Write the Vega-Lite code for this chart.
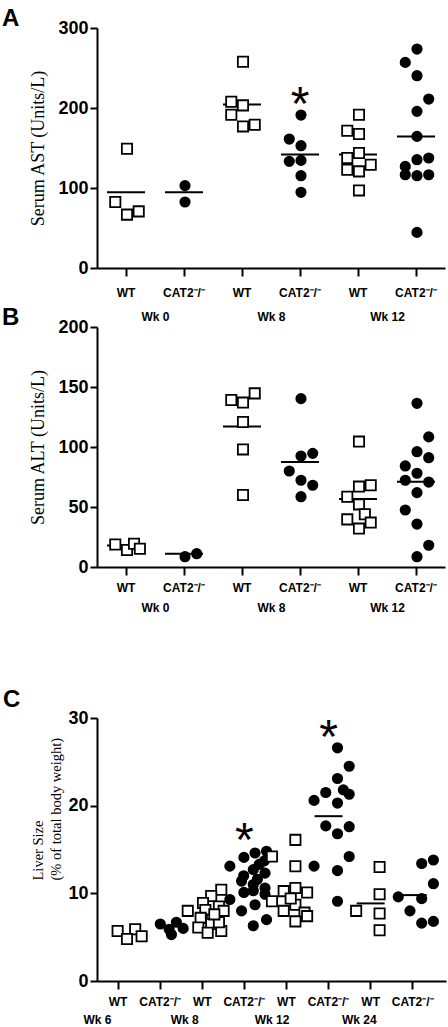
{
 "$schema": "https://vega.github.io/schema/vega-lite/v6.json",
 "padding": {"left": 2, "top": 7, "right": 3, "bottom": 0},
 "bounds": "flush",
 "spacing": 59,
 "datasets": {
  "ptsA": [
   {"g":"0W","geno":"WT","v":149,"s":0},{"g":"0W","geno":"WT","v":82.5,"s":-1},{"g":"0W","geno":"WT","v":66.7,"s":0},{"g":"0W","geno":"WT","v":70.8,"s":1},
   {"g":"0C","geno":"CAT2","v":103,"s":0},{"g":"0C","geno":"CAT2","v":82.5,"s":0},
   {"g":"8W","geno":"WT","v":257.9,"s":0},{"g":"8W","geno":"WT","v":207.9,"s":-1},{"g":"8W","geno":"WT","v":191.6,"s":-1},{"g":"8W","geno":"WT","v":203.3,"s":0},{"g":"8W","geno":"WT","v":177,"s":0},{"g":"8W","geno":"WT","v":179,"s":1},
   {"g":"8C","geno":"CAT2","v":191.2,"s":0},{"g":"8C","geno":"CAT2","v":161.2,"s":-1},{"g":"8C","geno":"CAT2","v":152.9,"s":0},{"g":"8C","geno":"CAT2","v":133.3,"s":-1},{"g":"8C","geno":"CAT2","v":134.5,"s":0},{"g":"8C","geno":"CAT2","v":115.4,"s":0},{"g":"8C","geno":"CAT2","v":94.6,"s":0},
   {"g":"12W","geno":"WT","v":191.6,"s":0},{"g":"12W","geno":"WT","v":171.6,"s":-1},{"g":"12W","geno":"WT","v":167.5,"s":0},{"g":"12W","geno":"WT","v":143.7,"s":0},{"g":"12W","geno":"WT","v":137.5,"s":-1},{"g":"12W","geno":"WT","v":122.9,"s":-1},{"g":"12W","geno":"WT","v":120.8,"s":0},{"g":"12W","geno":"WT","v":129.1,"s":1},{"g":"12W","geno":"WT","v":97,"s":0},
   {"g":"12C","geno":"CAT2","v":273.7,"s":0},{"g":"12C","geno":"CAT2","v":257,"s":-1},{"g":"12C","geno":"CAT2","v":240.4,"s":0},{"g":"12C","geno":"CAT2","v":211.2,"s":1},{"g":"12C","geno":"CAT2","v":195.8,"s":0},{"g":"12C","geno":"CAT2","v":164.5,"s":0},{"g":"12C","geno":"CAT2","v":127,"s":-1},{"g":"12C","geno":"CAT2","v":135.4,"s":0},{"g":"12C","geno":"CAT2","v":137.5,"s":1},{"g":"12C","geno":"CAT2","v":116.6,"s":-1},{"g":"12C","geno":"CAT2","v":115.4,"s":0},{"g":"12C","geno":"CAT2","v":116.6,"s":1},{"g":"12C","geno":"CAT2","v":44.5,"s":0}
  ],
  "meanA": [
   {"g":"0W","v":94.6},{"g":"0C","v":94.6},{"g":"8W","v":204.5},{"g":"8C","v":142},{"g":"12W","v":142},{"g":"12C","v":164.5}
  ],
  "starA": [{"g":"8C","v":217}],
  "wkA": [{"w":"Wk 0"},{"w":"Wk 8"},{"w":"Wk 12"}],
  "ptsB": [
   {"g":"0W","geno":"WT","v":18.8,"s":-1},{"g":"0W","geno":"WT","v":14.1,"s":0},{"g":"0W","geno":"WT","v":19.4,"s":0.6},{"g":"0W","geno":"WT","v":15.2,"s":1.1},
   {"g":"0C","geno":"CAT2","v":8.6,"s":0},{"g":"0C","geno":"CAT2","v":11.1,"s":1},
   {"g":"8W","geno":"WT","v":139.2,"s":-1},{"g":"8W","geno":"WT","v":137,"s":0},{"g":"8W","geno":"WT","v":144.7,"s":1},{"g":"8W","geno":"WT","v":120.8,"s":0},{"g":"8W","geno":"WT","v":98,"s":0},{"g":"8W","geno":"WT","v":60,"s":0},
   {"g":"8C","geno":"CAT2","v":140.3,"s":0},{"g":"8C","geno":"CAT2","v":92.5,"s":0},{"g":"8C","geno":"CAT2","v":94.7,"s":1},{"g":"8C","geno":"CAT2","v":80,"s":-1},{"g":"8C","geno":"CAT2","v":72.3,"s":0},{"g":"8C","geno":"CAT2","v":68.1,"s":1},{"g":"8C","geno":"CAT2","v":58.6,"s":0},
   {"g":"12W","geno":"WT","v":104.5,"s":0},{"g":"12W","geno":"WT","v":58.6,"s":-1},{"g":"12W","geno":"WT","v":67,"s":0},{"g":"12W","geno":"WT","v":68.1,"s":1},{"g":"12W","geno":"WT","v":52.2,"s":0},{"g":"12W","geno":"WT","v":39.7,"s":-1},{"g":"12W","geno":"WT","v":43.9,"s":0.5},{"g":"12W","geno":"WT","v":37,"s":1},{"g":"12W","geno":"WT","v":32,"s":0},
   {"g":"12C","geno":"CAT2","v":136.4,"s":0},{"g":"12C","geno":"CAT2","v":108.4,"s":1},{"g":"12C","geno":"CAT2","v":96.1,"s":0},{"g":"12C","geno":"CAT2","v":91.1,"s":1},{"g":"12C","geno":"CAT2","v":84.2,"s":-1},{"g":"12C","geno":"CAT2","v":78.1,"s":0},{"g":"12C","geno":"CAT2","v":72.3,"s":-1},{"g":"12C","geno":"CAT2","v":70.8,"s":1},{"g":"12C","geno":"CAT2","v":62,"s":0},{"g":"12C","geno":"CAT2","v":47.5,"s":-1},{"g":"12C","geno":"CAT2","v":35.8,"s":0},{"g":"12C","geno":"CAT2","v":18.1,"s":1},{"g":"12C","geno":"CAT2","v":8.6,"s":0}
  ],
  "meanB": [
   {"g":"0W","v":18},{"g":"0C","v":11},{"g":"8W","v":117},{"g":"8C","v":87.5},{"g":"12W","v":56.7},{"g":"12C","v":71}
  ],
  "ptsC": [
   {"g":"6W","geno":"WT","v":5.7,"s":-0.8},{"g":"6W","geno":"WT","v":5.9,"s":0.7},{"g":"6W","geno":"WT","v":4.8,"s":0},{"g":"6W","geno":"WT","v":5.1,"s":1.25},
   {"g":"6C","geno":"CAT2","v":6.5,"s":-0.75},{"g":"6C","geno":"CAT2","v":6.7,"s":0.62},{"g":"6C","geno":"CAT2","v":5.9,"s":0},{"g":"6C","geno":"CAT2","v":6.0,"s":1.2},{"g":"6C","geno":"CAT2","v":5.3,"s":0.2},
   {"g":"8W","geno":"WT","v":10.4,"s":0.86},{"g":"8W","geno":"WT","v":9.7,"s":0},{"g":"8W","geno":"WT","v":8.9,"s":-0.7},{"g":"8W","geno":"WT","v":8.5,"s":0.66},{"g":"8W","geno":"WT","v":8.0,"s":-2},{"g":"8W","geno":"WT","v":8.1,"s":-0.5},{"g":"8W","geno":"WT","v":8.0,"s":1.06},{"g":"8W","geno":"WT","v":7.0,"s":0.07},{"g":"8W","geno":"WT","v":7.2,"s":-0.9},{"g":"8W","geno":"WT","v":6.1,"s":-1.1},{"g":"8W","geno":"WT","v":6.5,"s":0},{"g":"8W","geno":"WT","v":5.7,"s":0.86},{"g":"8W","geno":"WT","v":5.5,"s":-0.3},{"g":"8W","geno":"WT","v":6.7,"s":0.66},{"g":"8W","geno":"WT","v":7.6,"s":0.27},
   {"g":"8C","geno":"CAT2","v":14.8,"s":1.13},{"g":"8C","geno":"CAT2","v":14.6,"s":0.15},{"g":"8C","geno":"CAT2","v":14.1,"s":-0.8},{"g":"8C","geno":"CAT2","v":13.1,"s":-2},{"g":"8C","geno":"CAT2","v":13.7,"s":0.94},{"g":"8C","geno":"CAT2","v":12.7,"s":0},{"g":"8C","geno":"CAT2","v":12.0,"s":-0.82},{"g":"8C","geno":"CAT2","v":11.6,"s":0.35},{"g":"8C","geno":"CAT2","v":11.4,"s":-1},{"g":"8C","geno":"CAT2","v":10.6,"s":1},{"g":"8C","geno":"CAT2","v":10.3,"s":0},{"g":"8C","geno":"CAT2","v":9.9,"s":1},{"g":"8C","geno":"CAT2","v":9.3,"s":-2},{"g":"8C","geno":"CAT2","v":10.1,"s":-0.8},{"g":"8C","geno":"CAT2","v":8.7,"s":0.15},{"g":"8C","geno":"CAT2","v":8.0,"s":-1},{"g":"8C","geno":"CAT2","v":7.0,"s":1.13},{"g":"8C","geno":"CAT2","v":6.3,"s":0},{"g":"8C","geno":"CAT2","v":12.3,"s":1},{"g":"8C","geno":"CAT2","v":11.0,"s":0},{"g":"8C","geno":"CAT2","v":13.3,"s":0.5},
   {"g":"12W","geno":"WT","v":16.1,"s":0},{"g":"12W","geno":"WT","v":14.2,"s":-2},{"g":"12W","geno":"WT","v":13.1,"s":0},{"g":"12W","geno":"WT","v":10.6,"s":0},{"g":"12W","geno":"WT","v":10.25,"s":-1},{"g":"12W","geno":"WT","v":10.1,"s":1},{"g":"12W","geno":"WT","v":9.1,"s":-2},{"g":"12W","geno":"WT","v":8.7,"s":0},{"g":"12W","geno":"WT","v":8.0,"s":-1},{"g":"12W","geno":"WT","v":7.8,"s":0.78},{"g":"12W","geno":"WT","v":7.4,"s":1},{"g":"12W","geno":"WT","v":6.8,"s":0},{"g":"12W","geno":"WT","v":9.4,"s":-0.4},
   {"g":"12C","geno":"CAT2","v":26.6,"s":0},{"g":"12C","geno":"CAT2","v":24.5,"s":1},{"g":"12C","geno":"CAT2","v":23.1,"s":0},{"g":"12C","geno":"CAT2","v":21.5,"s":-1},{"g":"12C","geno":"CAT2","v":21.8,"s":0.5},{"g":"12C","geno":"CAT2","v":21.3,"s":1},{"g":"12C","geno":"CAT2","v":20.6,"s":-2},{"g":"12C","geno":"CAT2","v":20.3,"s":0},{"g":"12C","geno":"CAT2","v":17.7,"s":-1},{"g":"12C","geno":"CAT2","v":17.6,"s":1},{"g":"12C","geno":"CAT2","v":16.8,"s":0},{"g":"12C","geno":"CAT2","v":14.2,"s":1},{"g":"12C","geno":"CAT2","v":13.1,"s":-2},{"g":"12C","geno":"CAT2","v":12.6,"s":0},{"g":"12C","geno":"CAT2","v":9.1,"s":0},
   {"g":"24W","geno":"WT","v":13.0,"s":0},{"g":"24W","geno":"WT","v":9.9,"s":0},{"g":"24W","geno":"WT","v":8.0,"s":-2},{"g":"24W","geno":"WT","v":7.7,"s":0},{"g":"24W","geno":"WT","v":5.8,"s":0},
   {"g":"24C","geno":"CAT2","v":13.4,"s":0},{"g":"24C","geno":"CAT2","v":13.8,"s":1},{"g":"24C","geno":"CAT2","v":11.1,"s":1},{"g":"24C","geno":"CAT2","v":9.6,"s":-2},{"g":"24C","geno":"CAT2","v":9.4,"s":0},{"g":"24C","geno":"CAT2","v":8.0,"s":-1},{"g":"24C","geno":"CAT2","v":6.6,"s":0},{"g":"24C","geno":"CAT2","v":6.8,"s":1}
  ],
  "meanC": [{"g":"12C","v":18.8},{"g":"24W","v":8.85},{"g":"24C","v":9.8}],
  "starC": [{"g":"8C","v":17.2},{"g":"12C","v":29}],
  "wkC": [{"w":"Wk 6"},{"w":"Wk 8"},{"w":"Wk 12"},{"w":"Wk 24"}]
 },
 "vconcat": [
  {
   "width": 348, "height": 240,
   "title": {"text": "A", "dx": -95, "offset": -12},
   "resolve": {"scale": {"x": "independent"}, "axis": {"x": "independent"}},
   "layer": [
    {
     "layer": [
      {"data": {"name": "meanA"}, "mark": {"type": "tick", "size": 38, "thickness": 2, "color": "black", "opacity": 1},
       "encoding": {
        "x": {"field": "g", "type": "nominal", "title": null, "scale": {"domain": ["0W","0C","8W","8C","12W","12C"], "paddingInner": 0, "paddingOuter": 0}, "axis": {"labelAngle": 0, "labelExpr": "slice(datum.value, -1) == 'W' ? 'WT' : 'CAT2⁻/⁻'", "tickSize": 8, "labelPadding": 11}},
        "y": {"field": "v", "type": "quantitative", "title": "Serum AST (Units/L)", "scale": {"domain": [0, 300], "nice": false}, "axis": {"values": [0, 100, 200, 300]}}
       }},
      {"data": {"name": "ptsA"}, "mark": {"type": "point", "filled": true, "stroke": "black", "strokeWidth": 1.8, "opacity": 1},
       "encoding": {
        "x": {"field": "g", "type": "nominal", "title": null},
        "xOffset": {"field": "s", "type": "quantitative", "scale": {"domain": [-2.18, 1.96], "range": [0, 58]}},
        "y": {"field": "v", "type": "quantitative", "title": "Serum AST (Units/L)"},
        "shape": {"field": "geno", "type": "nominal", "scale": {"domain": ["WT", "CAT2"], "range": ["square", "circle"]}, "legend": null},
        "fill": {"field": "geno", "type": "nominal", "scale": {"domain": ["WT", "CAT2"], "range": ["white", "black"]}, "legend": null},
        "size": {"field": "geno", "type": "nominal", "scale": {"domain": ["WT", "CAT2"], "range": [105, 88]}, "legend": null}
       }},
      {"data": {"name": "starA"}, "mark": {"type": "text", "text": "*", "fontSize": 48, "baseline": "middle", "dy": 12, "color": "black"},
       "encoding": {
        "x": {"field": "g", "type": "nominal", "title": null},
        "y": {"field": "v", "type": "quantitative", "title": "Serum AST (Units/L)"}
       }}
     ]
    },
    {"data": {"name": "wkA"}, "mark": {"type": "point", "opacity": 0},
     "encoding": {"x": {"field": "w", "type": "nominal", "title": null, "scale": {"domain": ["Wk 0","Wk 8","Wk 12"], "paddingInner": 0, "paddingOuter": 0}, "axis": {"orient": "bottom", "ticks": false, "domain": false, "labelAngle": 0, "labelPadding": 43}}}}
   ]
  },
  {
   "width": 348, "height": 240,
   "title": {"text": "B", "dx": -95, "offset": -12},
   "resolve": {"scale": {"x": "independent"}, "axis": {"x": "independent"}},
   "layer": [
    {
     "layer": [
      {"data": {"name": "meanB"}, "mark": {"type": "tick", "size": 38, "thickness": 2, "color": "black", "opacity": 1},
       "encoding": {
        "x": {"field": "g", "type": "nominal", "title": null, "scale": {"domain": ["0W","0C","8W","8C","12W","12C"], "paddingInner": 0, "paddingOuter": 0}, "axis": {"labelAngle": 0, "labelExpr": "slice(datum.value, -1) == 'W' ? 'WT' : 'CAT2⁻/⁻'", "tickSize": 8, "labelPadding": 7}},
        "y": {"field": "v", "type": "quantitative", "title": "Serum ALT (Units/L)", "scale": {"domain": [0, 200], "nice": false}, "axis": {"values": [0, 50, 100, 150, 200]}}
       }},
      {"data": {"name": "ptsB"}, "mark": {"type": "point", "filled": true, "stroke": "black", "strokeWidth": 1.8, "opacity": 1},
       "encoding": {
        "x": {"field": "g", "type": "nominal", "title": null},
        "xOffset": {"field": "s", "type": "quantitative", "scale": {"domain": [-2.18, 1.96], "range": [0, 58]}},
        "y": {"field": "v", "type": "quantitative", "title": "Serum ALT (Units/L)"},
        "shape": {"field": "geno", "type": "nominal", "scale": {"domain": ["WT", "CAT2"], "range": ["square", "circle"]}, "legend": null},
        "fill": {"field": "geno", "type": "nominal", "scale": {"domain": ["WT", "CAT2"], "range": ["white", "black"]}, "legend": null},
        "size": {"field": "geno", "type": "nominal", "scale": {"domain": ["WT", "CAT2"], "range": [105, 88]}, "legend": null}
       }}
     ]
    },
    {"data": {"name": "wkA"}, "mark": {"type": "point", "opacity": 0},
     "encoding": {"x": {"field": "w", "type": "nominal", "title": null, "scale": {"domain": ["Wk 0","Wk 8","Wk 12"], "paddingInner": 0, "paddingOuter": 0}, "axis": {"orient": "bottom", "ticks": false, "domain": false, "labelAngle": 0, "labelPadding": 35}}}}
   ]
  },
  {
   "width": 348, "height": 33,
   "data": {"values": [{}]},
   "mark": {"type": "point", "opacity": 0},
   "encoding": {}
  },
  {
   "width": 349, "height": 263,
   "title": {"text": "C", "dx": -94, "offset": -3},
   "resolve": {"scale": {"x": "independent"}, "axis": {"x": "independent"}},
   "layer": [
    {
     "layer": [
      {"data": {"name": "meanC"}, "mark": {"type": "tick", "size": 28, "thickness": 2, "color": "black", "opacity": 1},
       "encoding": {
        "x": {"field": "g", "type": "nominal", "title": null, "scale": {"domain": ["6W","6C","8W","8C","12W","12C","24W","24C"], "paddingInner": 0, "paddingOuter": 0.145, "align": 0}, "axis": {"labelAngle": 0, "labelExpr": "slice(datum.value, -1) == 'W' ? 'WT' : 'CAT2⁻/⁻'", "tickSize": 8, "labelPadding": 7}},
        "y": {"field": "v", "type": "quantitative", "title": ["Liver Size", "(% of total body weight)"], "scale": {"domain": [0, 30], "nice": false}, "axis": {"values": [0, 10, 20, 30], "titlePadding": 4, "titleFontSize": 14.5, "titleAlign": "left", "titleY": 162, "titleLineHeight": 18}}
       }},
      {"data": {"name": "ptsC"}, "mark": {"type": "point", "filled": true, "stroke": "black", "strokeWidth": 1.8, "opacity": 1},
       "encoding": {
        "x": {"field": "g", "type": "nominal", "title": null},
        "xOffset": {"field": "s", "type": "quantitative", "scale": {"domain": [-2.56, 2.39], "range": [0, 42.1]}},
        "y": {"field": "v", "type": "quantitative", "title": ["Liver Size", "(% of total body weight)"]},
        "shape": {"field": "geno", "type": "nominal", "scale": {"domain": ["WT", "CAT2"], "range": ["square", "circle"]}, "legend": null},
        "fill": {"field": "geno", "type": "nominal", "scale": {"domain": ["WT", "CAT2"], "range": ["white", "black"]}, "legend": null},
        "size": {"field": "geno", "type": "nominal", "scale": {"domain": ["WT", "CAT2"], "range": [105, 88]}, "legend": null}
       }},
      {"data": {"name": "starC"}, "mark": {"type": "text", "text": "*", "fontSize": 48, "baseline": "middle", "dy": 12, "color": "black"},
       "encoding": {
        "x": {"field": "g", "type": "nominal", "title": null},
        "y": {"field": "v", "type": "quantitative", "title": ["Liver Size", "(% of total body weight)"]}
       }}
     ]
    },
    {"data": {"name": "wkC"}, "mark": {"type": "point", "opacity": 0},
     "encoding": {"x": {"field": "w", "type": "nominal", "title": null, "scale": {"domain": ["Wk 6","Wk 8","Wk 12","Wk 24"], "paddingInner": 0, "paddingOuter": 0.0725, "align": 0}, "axis": {"orient": "bottom", "ticks": false, "domain": false, "labelAngle": 0, "labelPadding": 33}}}}
   ]
  }
 ],
 "config": {
  "view": {"stroke": null},
  "font": "Liberation Sans",
  "axis": {"domainColor": "black", "domainWidth": 2, "tickColor": "black", "tickWidth": 2, "labelColor": "black", "labelFont": "Liberation Sans", "labelFontWeight": "bold", "grid": false, "titleFont": "Liberation Serif", "titleFontWeight": "normal", "titleFontSize": 18, "titleColor": "black"},
  "axisX": {"labelFontSize": 12, "labelFont": "Liberation Sans Narrow, Liberation Sans, sans-serif"},
  "axisY": {"labelFontSize": 18, "tickSize": 7, "labelPadding": 2, "titlePadding": 10},
  "title": {"font": "Liberation Sans", "fontSize": 24, "fontWeight": "bold", "color": "black", "anchor": "start", "frame": "group"}
 }
}
